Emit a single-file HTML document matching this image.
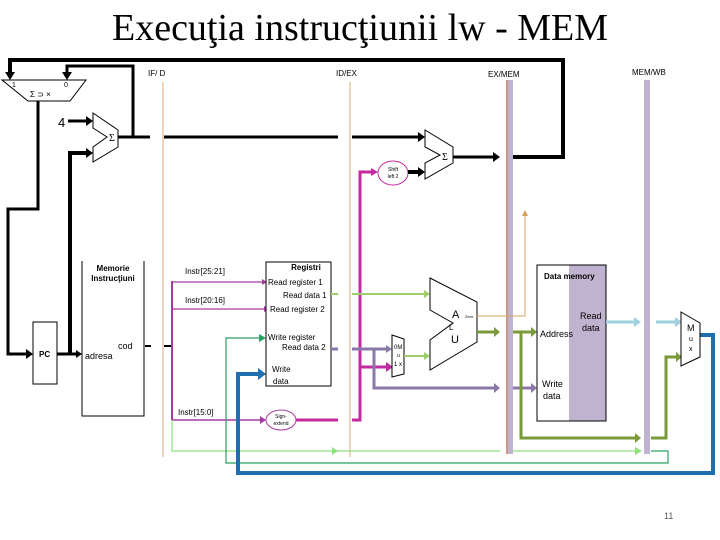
<!DOCTYPE html>
<html><head><meta charset="utf-8"><style>
html,body{margin:0;padding:0;background:#fff;}
svg{display:block;font-family:"Liberation Sans",sans-serif;}
</style></head><body>
<svg width="720" height="540" viewBox="0 0 720 540" xmlns="http://www.w3.org/2000/svg">
<text x="360" y="40" text-anchor="middle" font-family="Liberation Serif,serif" font-size="38">Execuţia instrucţiunii lw - MEM</text>

<!-- pipeline registers -->
<line x1="163" y1="82" x2="163" y2="457" stroke="#e6c9a8" stroke-width="1.5"/>
<line x1="350" y1="82" x2="350" y2="457" stroke="#e6c9a8" stroke-width="1.5"/>
<rect x="506" y="80" width="7" height="374" fill="#c0b3d0"/>
<line x1="507" y1="80" x2="507" y2="454" stroke="#d08a5a" stroke-width="1.2"/>
<rect x="644" y="80" width="6" height="374" fill="#c0b3d0"/>
<text x="148" y="76" font-size="8">IF/ D</text>
<text x="336" y="76" font-size="8">ID/EX</text>
<text x="488" y="77" font-size="8">EX/MEM</text>
<text x="632" y="75" font-size="8">MEM/WB</text>

<!-- top black loops -->
<polyline points="10,77 10,60 563,60 563,157 513,157" fill="none" stroke="#000" stroke-width="4"/>
<path d="M5,72 L15,72 L10,80z" fill="#000"/>
<polyline points="133,137 133,66 67,66 67,74" fill="none" stroke="#000" stroke-width="3"/>
<path d="M62,72 L72,72 L67,80z" fill="#000"/>
<!-- PC mux -->
<polygon points="2,80 86,80 70,101 28,101" fill="#fff" stroke="#000" stroke-width="1"/>
<text x="12" y="87" font-size="7">1</text><text x="64" y="87" font-size="7">0</text>
<text x="30" y="97" font-size="8">Σ ⊃ ×</text>
<polyline points="38,101 38,209 8,209 8,354 28,354" fill="none" stroke="#000" stroke-width="3"/>
<path d="M26,349 L33,354 L26,359z" fill="#000"/>
<!-- adder 1 -->
<text x="58" y="127" font-size="13">4</text>
<line x1="68" y1="121" x2="88" y2="121" stroke="#000" stroke-width="3"/>
<path d="M86,116 L93,121 L86,126z" fill="#000"/>
<polyline points="70,354 70,153 88,153" fill="none" stroke="#000" stroke-width="4"/>
<path d="M86,148 L93,153 L86,158z" fill="#000"/>
<polygon points="93,113 118,130 118,147 93,162 93,147 107,137 93,128" fill="#fff" stroke="#000"/>
<text x="109" y="141" font-size="10" font-family="Liberation Serif,serif">Σ</text>
<line x1="118" y1="137" x2="150" y2="137" stroke="#000" stroke-width="3"/>
<line x1="164" y1="137" x2="338" y2="137" stroke="#000" stroke-width="3"/>
<line x1="352" y1="137" x2="419" y2="137" stroke="#000" stroke-width="3"/>
<path d="M418,132 L425,137 L418,142z" fill="#000"/>
<!-- PC -->
<rect x="33" y="322" width="24" height="62" fill="#fff" stroke="#000"/>
<text x="39" y="357" font-size="8" font-weight="bold">PC</text>
<line x1="57" y1="354" x2="78" y2="354" stroke="#000" stroke-width="3"/>
<path d="M76,350 L82,354 L76,358z" fill="#000"/>
<!-- instr memory -->
<polyline points="144,261 144,416 82,416 82,261" fill="none" stroke="#000"/>
<text x="113" y="271" font-size="8" font-weight="bold" text-anchor="middle">Memorie</text>
<text x="113" y="281" font-size="8" font-weight="bold" text-anchor="middle">Instrucţiuni</text>
<text x="118" y="349" font-size="9">cod</text>
<text x="85" y="359" font-size="9">adresa</text>
<line x1="145" y1="346" x2="151" y2="346" stroke="#000" stroke-width="2"/>
<line x1="164" y1="346" x2="172" y2="346" stroke="#000" stroke-width="2"/>
<!-- instr fields -->
<line x1="172" y1="281" x2="172" y2="420" stroke="#a63aa0" stroke-width="2"/>
<line x1="172" y1="282" x2="263" y2="282" stroke="#a63aa0" stroke-width="1.2"/>
<path d="M262,279 L267,282 L262,285z" fill="#a63aa0"/>
<line x1="172" y1="309" x2="265" y2="309" stroke="#a63aa0" stroke-width="1.2"/>
<path d="M264,306 L269,309 L264,312z" fill="#a63aa0"/>
<line x1="172" y1="420" x2="262" y2="420" stroke="#a63aa0" stroke-width="1.5"/>
<path d="M260,416 L266,420 L260,424z" fill="#a63aa0"/>
<text x="185" y="274" font-size="8">Instr[25:21]</text>
<text x="185" y="303" font-size="8">Instr[20:16]</text>
<text x="178" y="415" font-size="8">Instr[15:0]</text>
<polyline points="172,420 172,451 500,451" fill="none" stroke="#8ee07a" stroke-width="1.2"/>
<path d="M332,447 L338,451 L332,455z" fill="#8ee07a"/>
<line x1="513" y1="451" x2="638" y2="451" stroke="#8ee07a" stroke-width="1.2"/>
<path d="M635,447 L642,451 L635,455z" fill="#8ee07a"/>
<polyline points="261,338 226,338 226,463 668,463 668,451 651,451" fill="none" stroke="#2aa060" stroke-width="1.2"/>
<path d="M259,334 L266,338 L259,342z" fill="#2aa060"/>
<polyline points="258,374 238,374 238,473 713,473 713,335 700,335" fill="none" stroke="#1f6fb0" stroke-width="4"/>
<path d="M258,368 L266,374 L258,380z" fill="#1f6fb0"/>
<!-- registers -->
<rect x="266" y="262" width="65" height="124" fill="#fff" stroke="#000"/>
<text x="306" y="270" font-size="8" font-weight="bold" text-anchor="middle">Registri</text>
<text x="268" y="285" font-size="8">Read register 1</text>
<text x="283" y="298" font-size="8">Read data 1</text>
<text x="270" y="312" font-size="8">Read register 2</text>
<text x="268" y="340" font-size="8">Write register</text>
<text x="282" y="350" font-size="8">Read data 2</text>
<text x="272" y="372" font-size="8">Write</text>
<text x="273" y="384" font-size="8">data</text>
<!-- sign extend -->
<ellipse cx="281" cy="420" rx="15" ry="10" fill="#fff" stroke="#a63aa0"/>
<text x="281" y="418" font-size="5" text-anchor="middle">Sign-</text>
<text x="281" y="425" font-size="5" text-anchor="middle">extend</text>
<line x1="296" y1="420" x2="338" y2="420" stroke="#c42aa0" stroke-width="3"/>
<polyline points="352,420 360,420 360,172 372,172" fill="none" stroke="#c42aa0" stroke-width="3"/>
<path d="M371,168 L378,172 L371,176z" fill="#c42aa0"/>
<line x1="360" y1="367" x2="388" y2="367" stroke="#c42aa0" stroke-width="3"/>
<path d="M386,362 L393,367 L386,372z" fill="#c42aa0"/>
<ellipse cx="393" cy="173" rx="15" ry="12" fill="#fff" stroke="#c42aa0"/>
<text x="393" y="171" font-size="5" text-anchor="middle">Shift</text>
<text x="393" y="178" font-size="5" text-anchor="middle">left 2</text>
<line x1="408" y1="172" x2="420" y2="172" stroke="#000" stroke-width="4"/>
<path d="M418,167 L425,172 L418,177z" fill="#000"/>
<!-- adder 2 -->
<polygon points="425,130 453,147 453,163 425,179 425,163 440,155 425,147" fill="#fff" stroke="#000"/>
<text x="442" y="160" font-size="10" font-family="Liberation Serif,serif">Σ</text>
<line x1="453" y1="157" x2="495" y2="157" stroke="#000" stroke-width="3"/>
<path d="M493,152 L500,157 L493,162z" fill="#000"/>
<!-- read data 1 -->
<line x1="331" y1="294" x2="338" y2="294" stroke="#9ccf6a" stroke-width="2"/>
<line x1="352" y1="294" x2="425" y2="294" stroke="#9ccf6a" stroke-width="2"/>
<path d="M424,290 L430,294 L424,298z" fill="#9ccf6a"/>
<!-- read data 2 -->
<line x1="331" y1="349" x2="338" y2="349" stroke="#8a78a8" stroke-width="3"/>
<line x1="352" y1="349" x2="388" y2="349" stroke="#8a78a8" stroke-width="3"/>
<path d="M386,345 L392,349 L386,353z" fill="#8a78a8"/>
<polyline points="374,349 374,388 495,388" fill="none" stroke="#8a78a8" stroke-width="3"/>
<path d="M494,383 L500,388 L494,393z" fill="#8a78a8"/>
<line x1="513" y1="388" x2="532" y2="388" stroke="#8a78a8" stroke-width="3"/>
<path d="M531,383 L537,388 L531,393z" fill="#8a78a8"/>
<!-- small mux -->
<polygon points="392,335 404,339 404,374 392,377" fill="#fff" stroke="#000"/>
<text x="394" y="349" font-size="6">0M</text><text x="397" y="357" font-size="5">u</text><text x="394" y="366" font-size="6">1 x</text>
<line x1="404" y1="356" x2="425" y2="356" stroke="#9ccf6a" stroke-width="2"/>
<path d="M424,352 L430,356 L424,360z" fill="#9ccf6a"/>
<!-- ALU -->
<polygon points="430,278 477,302 477,342 430,370 430,340 453,323 430,310" fill="#fff" stroke="#000"/>
<text x="452" y="318" font-size="11">A</text>
<text x="449" y="330" font-size="8">L</text>
<text x="451" y="343" font-size="11">U</text>
<text x="465" y="318" font-size="4">Zero</text>
<polyline points="476,316 525,316 525,216" fill="none" stroke="#d8a060" stroke-width="1"/>
<path d="M522,216 L525,210 L528,216z" fill="#d8a060"/>
<line x1="477" y1="332" x2="495" y2="332" stroke="#7a9a3a" stroke-width="3"/>
<path d="M494,327 L500,332 L494,337z" fill="#7a9a3a"/>
<line x1="513" y1="332" x2="532" y2="332" stroke="#7a9a3a" stroke-width="3"/>
<path d="M531,327 L537,332 L531,337z" fill="#7a9a3a"/>
<polyline points="521,332 521,438 636,438" fill="none" stroke="#7a9a3a" stroke-width="3"/>
<path d="M635,433 L641,438 L635,443z" fill="#7a9a3a"/>
<polyline points="651,438 666,438 666,357 677,357" fill="none" stroke="#7a9a3a" stroke-width="3"/>
<path d="M676,352 L682,357 L676,362z" fill="#7a9a3a"/>
<!-- data memory -->
<rect x="537" y="265" width="69" height="156" fill="#fff" stroke="#000"/>
<rect x="569" y="265" width="37" height="156" fill="#c0b3d0"/>
<rect x="537" y="265" width="69" height="156" fill="none" stroke="#000"/>
<text x="544" y="279" font-size="8" font-weight="bold">Data memory</text>
<text x="540" y="337" font-size="9">Address</text>
<text x="580" y="319" font-size="9">Read</text>
<text x="582" y="331" font-size="9">data</text>
<text x="542" y="387" font-size="9">Write</text>
<text x="543" y="399" font-size="9">data</text>
<line x1="606" y1="322" x2="635" y2="322" stroke="#9fd0e0" stroke-width="3"/>
<path d="M634,317 L641,322 L634,327z" fill="#9fd0e0"/>
<line x1="656" y1="322" x2="676" y2="322" stroke="#9fd0e0" stroke-width="3"/>
<path d="M675,317 L682,322 L675,327z" fill="#9fd0e0"/>
<!-- WB mux -->
<polygon points="681,312 700,323 700,357 681,366" fill="#fff" stroke="#000"/>
<text x="687" y="331" font-size="9">M</text><text x="689" y="341" font-size="7">u</text><text x="689" y="351" font-size="7">x</text>
<text x="664" y="519" font-size="9" fill="#555">11</text>
</svg>
</body></html>
